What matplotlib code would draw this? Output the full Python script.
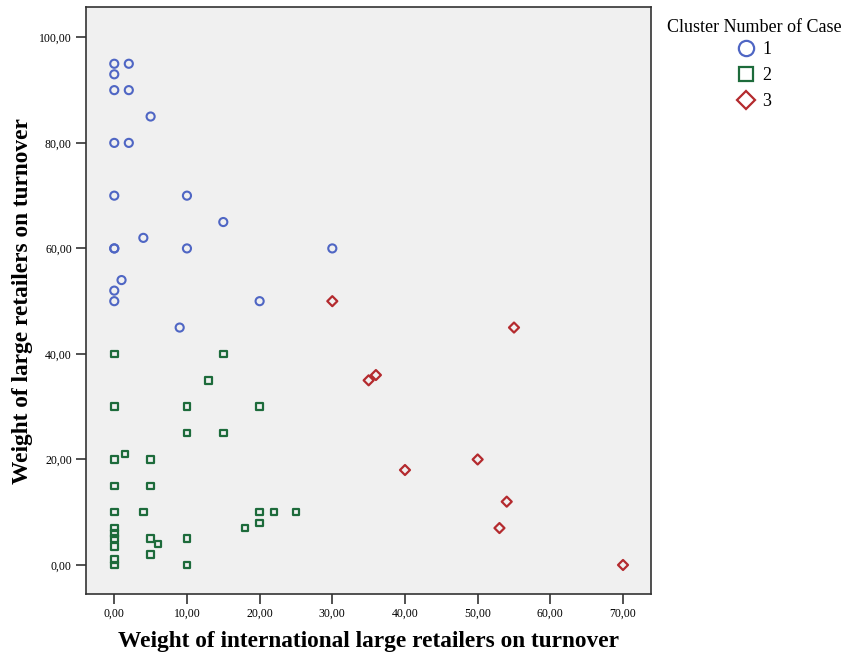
import matplotlib
matplotlib.use("Agg")
import matplotlib.pyplot as plt
from matplotlib.lines import Line2D
from matplotlib.ticker import FuncFormatter

plt.rcParams['font.family'] = ['Liberation Serif', 'DejaVu Serif']

# Cluster 1
c1_x = [0, 2, 0, 0, 2, 5, 0, 2, 0, 10, 15, 4, 0, 0, 10, 30, 1, 0, 0, 20, 9]
c1_y = [95, 95, 93, 90, 90, 85, 80, 80, 70, 70, 65, 62, 60, 60, 60, 60, 54, 52, 50, 50, 45]
# Cluster 2
c2_x = [0, 15, 13, 0, 10, 20, 10, 15, 0, 1.5, 5, 0, 5, 0, 4, 20, 22, 25, 20, 18,
        0, 0, 0, 0, 5, 6, 10, 5, 0, 0, 10]
c2_y = [40, 40, 35, 30, 30, 30, 25, 25, 20, 21, 20, 15, 15, 10, 10, 10, 10, 10, 8, 7,
        7, 6, 5, 3.5, 5, 4, 5, 2, 1, 0, 0]
# Cluster 3
c3_x = [30, 55, 35, 36, 40, 50, 54, 53, 70]
c3_y = [50, 45, 35, 36, 18, 20, 12, 7, 0]

cluster_labels = ['1', '2', '3']
x_ticks = [0, 10, 20, 30, 40, 50, 60, 70]
y_ticks = [0, 20, 40, 60, 80, 100]

blue = '#4f66c4'
green = '#1d6b3b'
red = '#b42a2e'

fig = plt.figure(figsize=(8.45, 6.56), dpi=100)
ax = fig.add_axes([86/845, 1-594/656, (651-86)/845, (594-7.3)/656])
ax.set_facecolor('#f0f0f0')

ax.scatter(c1_x, c1_y, s=34, marker='o', facecolors='none', edgecolors=blue, linewidths=1.5, zorder=3)
ax.scatter(c2_x, c2_y, s=22, marker='s', facecolors='none', edgecolors=green, linewidths=1.6, zorder=3)
ax.scatter(c3_x, c3_y, s=26, marker='D', facecolors='none', edgecolors=red, linewidths=1.6, zorder=3)

ax.set_xlim(-3.89, 73.85)
ax.set_ylim(-5.5, 105.7)
ax.set_xticks(x_ticks)
ax.set_yticks(y_ticks)
fmt = FuncFormatter(lambda v, p: f"{v:.2f}".replace('.', ','))
ax.xaxis.set_major_formatter(fmt)
ax.yaxis.set_major_formatter(fmt)
ax.tick_params(direction='out', length=7.2, width=1.2, color='#333333', labelsize=8.5, pad=3)
for s in ax.spines.values():
    s.set_color('#333333')
    s.set_linewidth(1.2)

ax.set_xlabel('Weight of international large retailers on turnover', fontsize=16.8, fontweight='bold')
ax.set_ylabel('Weight of large retailers on turnover', fontsize=16.8, fontweight='bold')
ax.xaxis.set_label_coords(0.5, -(631.5-594)/586.7)
ax.yaxis.set_label_coords((33-86)/565, 0.5)

fig.text(754/845, 1-27/656, 'Cluster Number of Case', ha='center', va='center', fontsize=13)
handles = [
    Line2D([], [], linestyle='none', marker='o', markersize=11, markerfacecolor='none', markeredgecolor=blue, markeredgewidth=1.6),
    Line2D([], [], linestyle='none', marker='s', markersize=9.5, markerfacecolor='none', markeredgecolor=green, markeredgewidth=1.6),
    Line2D([], [], linestyle='none', marker='D', markersize=9, markerfacecolor='none', markeredgecolor=red, markeredgewidth=1.6),
]
fig.legend(handles, cluster_labels, loc='upper left', bbox_to_anchor=(735/845, 1-41/656),
           frameon=False, fontsize=13, handlelength=1.2, handletextpad=0.3, labelspacing=0.5,
           borderpad=0, borderaxespad=0)

fig.savefig('out.png', dpi=100)
